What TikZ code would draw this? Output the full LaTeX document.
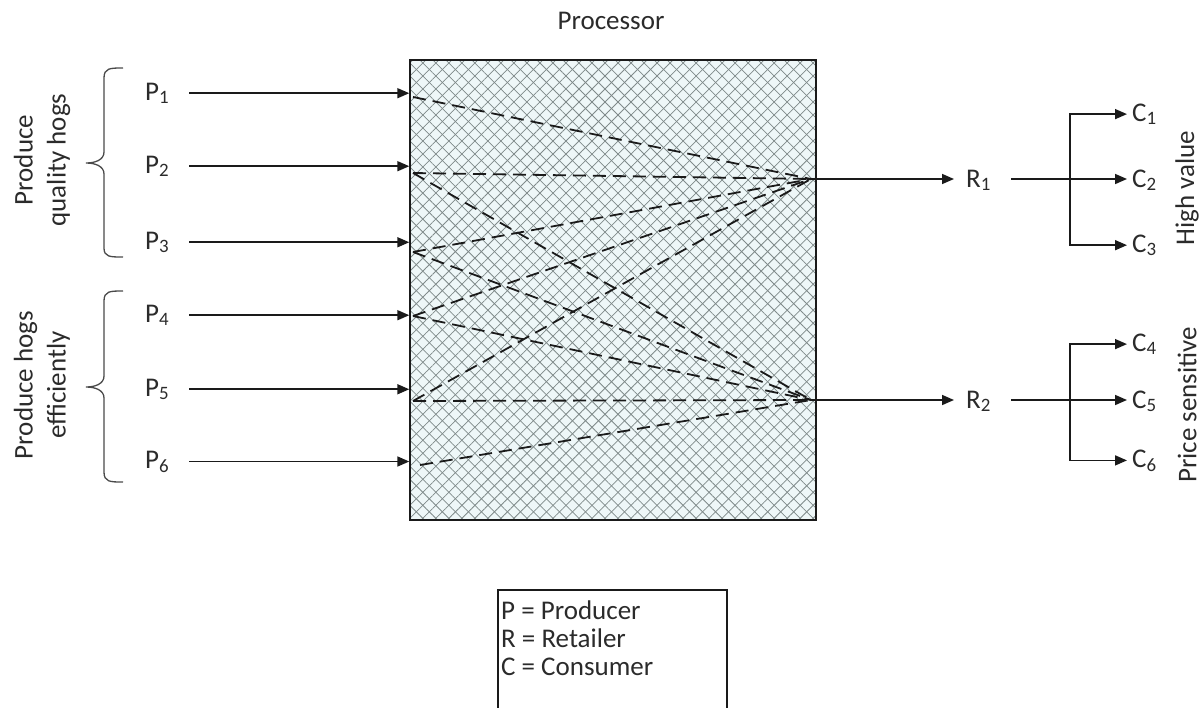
\documentclass[tikz,border=0pt]{standalone}
\usepackage{fontspec}
\setmainfont{Carlito}
\usetikzlibrary{arrows.meta,patterns.meta}
\definecolor{ink}{HTML}{1A1A1A}
\definecolor{txt}{HTML}{2B2B2B}
\definecolor{boxfill}{HTML}{EEF7F8}
\definecolor{hatch}{HTML}{7F8A8A}
\definecolor{bracegray}{HTML}{4A4A4A}

\begin{document}
\begin{tikzpicture}[x=1pt, y=-1pt,
  every node/.style={inner sep=0pt, text=txt, font=\fontsize{27}{33}\selectfont},
  lbl/.style={anchor=base west},
  side/.style={rotate=90, align=center},
  arr/.style={draw=ink, line width=1.6pt, -{Triangle[length=12pt, width=10pt]}},
  link/.style={draw=ink, line width=1.8pt, dash pattern=on 13pt off 7pt},
  brace/.style={draw=bracegray, line width=1.3pt}]
  \useasboundingbox (0,0) rectangle (1201,707);

  \node (proc) at (613,290) [draw=ink, line width=1.4pt, minimum width=406pt, minimum height=460pt,
    preaction={fill=boxfill},
    preaction={pattern={Lines[angle=45, distance=9.2pt, line width=0.75pt]}, pattern color=hatch},
    preaction={pattern={Lines[angle=-45, distance=9.2pt, line width=0.75pt]}, pattern color=hatch}] {};
  \node (title) at (611,21) {Processor};

  \node (qual) [side] at (42,160) {Produce\\quality hogs};
  \node (effi) [side] at (42,385) {Produce hogs\\efficiently};
  \draw[brace] (123,68) .. controls (110,68) and (104,68) .. (104,78) -- (104,152)
    .. controls (104,160) and (95,163) .. (86,163) .. controls (95,163) and (104,166) .. (104,174)
    -- (104,248) .. controls (104,257) and (110,257) .. (123,257);
  \draw[brace] (123,291) .. controls (110,291) and (104,291) .. (104,301) -- (104,376)
    .. controls (104,384) and (95,387) .. (86,387) .. controls (95,387) and (104,390) .. (104,398)
    -- (104,472) .. controls (104,482) and (110,482) .. (123,482);

  \node (p1) [lbl] at (145,100) {P\textsubscript{1}};
  \node (p2) [lbl] at (145,173) {P\textsubscript{2}};
  \node (p3) [lbl] at (145,249) {P\textsubscript{3}};
  \node (p4) [lbl] at (145,322) {P\textsubscript{4}};
  \node (p5) [lbl] at (145,396) {P\textsubscript{5}};
  \node (p6) [lbl] at (145,468) {P\textsubscript{6}};
  \draw[arr, shorten <=20pt] (p1.east) -- (p1.east -| proc.west);
  \draw[arr, shorten <=20pt] (p2.east) -- (p2.east -| proc.west);
  \draw[arr, shorten <=20pt] (p3.east) -- (p3.east -| proc.west);
  \draw[arr, shorten <=20pt] (p4.east) -- (p4.east -| proc.west);
  \draw[arr, shorten <=20pt] (p5.east) -- (p5.east -| proc.west);
  \draw[arr, shorten <=20pt] (p6.east) -- (p6.east -| proc.west);

  \coordinate (in1) at (413,97);
  \coordinate (in2) at (413,173);
  \coordinate (in3) at (413,252);
  \coordinate (in4) at (413,316);
  \coordinate (in5) at (413,401);
  \coordinate (in6) at (420,465);
  \coordinate (hub1) at (811,179);
  \coordinate (hub2) at (811,400);
  \draw[link] (in1) -- (hub1);
  \draw[link] (in2) -- (hub1);
  \draw[link] (in2) -- (hub2);
  \draw[link] (in3) -- (hub1);
  \draw[link] (in3) -- (hub2);
  \draw[link] (in4) -- (hub1);
  \draw[link] (in4) -- (hub2);
  \draw[link] (in5) -- (hub1);
  \draw[link] (in5) -- (hub2);
  \draw[link] (in6) -- (hub2);

  \node (r1) [lbl] at (966,187) {R\textsubscript{1}};
  \node (r2) [lbl] at (966,408) {R\textsubscript{2}};
  \draw[arr, shorten >=12pt] (hub1) -- (hub1 -| r1.west);
  \draw[arr, shorten >=12pt] (hub2) -- (hub2 -| r2.west);

  \node (c1) [lbl] at (1132,121) {C\textsubscript{1}};
  \node (c2) [lbl] at (1132,187) {C\textsubscript{2}};
  \node (c3) [lbl] at (1132,252) {C\textsubscript{3}};
  \node (c4) [lbl] at (1132,351) {C\textsubscript{4}};
  \node (c5) [lbl] at (1132,408) {C\textsubscript{5}};
  \node (c6) [lbl] at (1132,467) {C\textsubscript{6}};
  \coordinate (j1) at (1070,179);
  \coordinate (j2) at (1070,400);
  \draw[arr, shorten <=20pt, shorten >=5pt] (r1.east |- hub1) -- (c2.west |- hub1);
  \draw[arr, shorten >=5pt] (j1) |- (c1.west);
  \draw[arr, shorten >=5pt] (j1) |- (c3.west);
  \draw[arr, shorten <=20pt, shorten >=5pt] (r2.east |- hub2) -- (c5.west |- hub2);
  \draw[arr, shorten >=5pt] (j2) |- (c4.west);
  \draw[arr, shorten >=5pt] (j2) |- (c6.west);
  \node (high) [rotate=90] at (1187,188) {High value};
  \node (price) [rotate=90] at (1187,405) {Price sensitive};

  % legend box runs off the bottom edge
  \node (key) [anchor=north west, align=left, font=\fontsize{27}{28}\selectfont] at (501,601)
    {P = Producer\\R = Retailer\\C = Consumer};
  \draw[draw=ink, line width=1.2pt] (498,730) -- (498,590) -- (727,590) -- (727,730);
\end{tikzpicture}
\end{document}
